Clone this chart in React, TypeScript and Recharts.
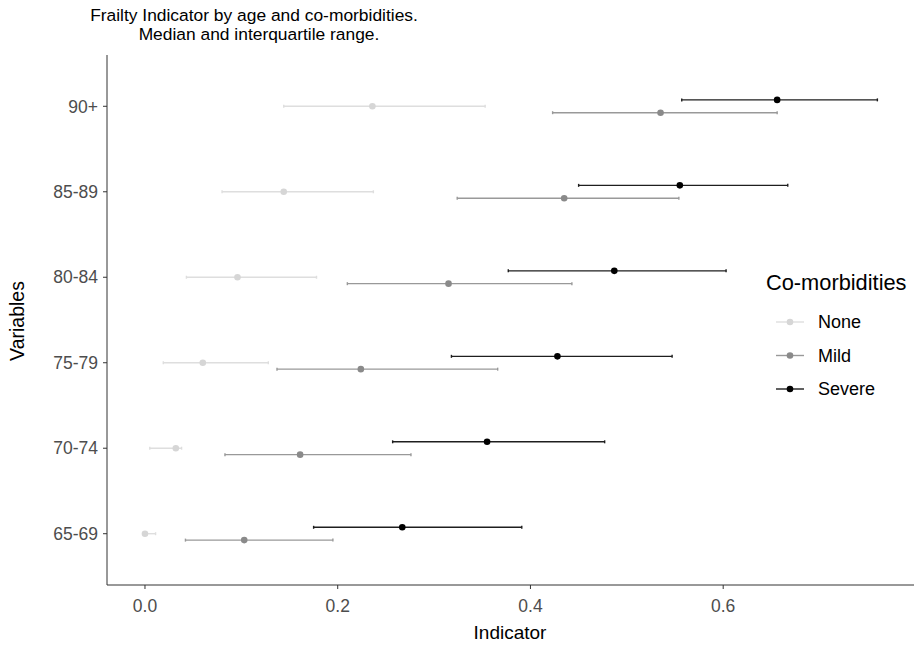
import { ScatterChart, Scatter, XAxis, YAxis, ErrorBar } from 'recharts';

// age bands, bottom to top
const AGES = ['65-69', '70-74', '75-79', '80-84', '85-89', '90+'];

// medians and interquartile bounds
const noneMed = [0.0, 0.032, 0.06, 0.096, 0.144, 0.236];
const noneLow = [0.0, 0.005, 0.019, 0.043, 0.08, 0.144];
const noneHigh = [0.011, 0.038, 0.128, 0.178, 0.237, 0.353];

const mildMed = [0.103, 0.161, 0.224, 0.315, 0.435, 0.535];
const mildLow = [0.042, 0.083, 0.137, 0.21, 0.324, 0.423];
const mildHigh = [0.195, 0.276, 0.366, 0.443, 0.554, 0.656];

const sevMed = [0.267, 0.355, 0.428, 0.487, 0.555, 0.656];
const sevLow = [0.175, 0.257, 0.318, 0.377, 0.45, 0.557];
const sevHigh = [0.391, 0.477, 0.547, 0.603, 0.667, 0.76];

const X_TICKS = [0, 0.2, 0.4, 0.6];

const FONT = '"Liberation Sans", Arial, sans-serif';
const DODGE = 0.075; // vertical dodge between groups, in category units

const build = (med: number[], low: number[], high: number[], shift: number) =>
  AGES.map((age, i) => ({
    age,
    y: i + 1 + shift,
    x: med[i],
    err: [med[i] - low[i], high[i] - med[i]],
  }));

const SERIES = [
  { name: 'None', dot: '#d6d6d6', bar: '#dedede', data: build(noneMed, noneLow, noneHigh, 0) },
  { name: 'Mild', dot: '#8a8a8a', bar: '#999999', data: build(mildMed, mildLow, mildHigh, -DODGE) },
  { name: 'Severe', dot: '#000000', bar: '#1e1e1e', data: build(sevMed, sevLow, sevHigh, DODGE) },
];

const tickStyle = { fill: '#4d4d4d', fontSize: 17.5, fontFamily: FONT };

export default function App() {
  return (
    <div style={{ position: 'absolute', left: 0, top: 0, width: 914, height: 645, background: '#fff' }}>
      <ScatterChart width={914} height={645} margin={{ top: 55, right: 0, bottom: 0, left: 0 }}>
        <XAxis
          type="number"
          dataKey="x"
          domain={[-0.0394, 0.798]}
          ticks={X_TICKS}
          allowDataOverflow
          tickFormatter={(v) => v.toFixed(1)}
          height={60}
          stroke="#333"
          tickSize={4}
          tickMargin={11}
          tick={tickStyle}
          label={() => (
            <text x={510} y={639} textAnchor="middle" fontSize={19} fontFamily={FONT} fill="#000">
              Indicator
            </text>
          )}
        />
        <YAxis
          type="number"
          dataKey="y"
          domain={[0.4, 6.6]}
          ticks={[1, 2, 3, 4, 5, 6]}
          allowDataOverflow
          tickFormatter={(v) => AGES[v - 1]}
          width={107}
          stroke="#333"
          tickSize={4}
          tickMargin={5}
          tick={tickStyle}
          label={() => (
            <text
              x={24}
              y={321}
              transform="rotate(-90 24 321)"
              textAnchor="middle"
              fontSize={19.5}
              fontFamily={FONT}
              fill="#000"
            >
              Variables
            </text>
          )}
        />
        {SERIES.map((s) => (
          <Scatter
            key={s.name}
            name={s.name}
            data={s.data}
            isAnimationActive={false}
            shape={(p: any) => <circle cx={p.cx} cy={p.cy} r={3.3} fill={s.dot} />}
          >
            <ErrorBar dataKey="err" direction="x" width={1.5} stroke={s.bar} strokeWidth={1.4} />
          </Scatter>
        ))}
      </ScatterChart>

      {/* title + legend drawn over the chart */}
      <svg width={914} height={645} style={{ position: 'absolute', left: 0, top: 0, pointerEvents: 'none' }}>
        <text x={254} y={21} textAnchor="middle" fontFamily={FONT} fontSize={17.4} fill="#000">
          Frailty Indicator by age and co-morbidities.
        </text>
        <text x={259} y={40} textAnchor="middle" fontFamily={FONT} fontSize={17.4} fill="#000">
          Median and interquartile range.
        </text>
        <text x={766} y={290} fontFamily={FONT} fontSize={21.8} fill="#000">
          Co-morbidities
        </text>
        {SERIES.map((s, i) => {
          const cy = 322 + i * 33.5;
          return (
            <g key={s.name}>
              <line x1={776} y1={cy} x2={804} y2={cy} stroke={s.bar} strokeWidth={1.4} />
              <circle cx={790} cy={cy} r={3.3} fill={s.dot} />
              <text x={818} y={cy + 6} fontFamily={FONT} fontSize={18} fill="#000">
                {s.name}
              </text>
            </g>
          );
        })}
      </svg>
    </div>
  );
}
